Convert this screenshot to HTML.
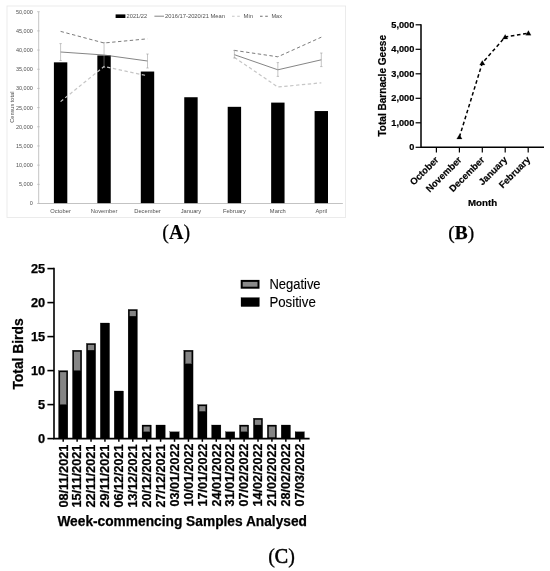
<!DOCTYPE html>
<html lang="en"><head><meta charset="utf-8"><title>Figure</title>
<style>html,body{margin:0;padding:0;background:#fff;}svg{display:block;}.a{font-family:"Liberation Sans",Arial,sans-serif;}.s{font-family:"Liberation Serif","Times New Roman",serif;}</style></head><body>
<svg width="550" height="571" viewBox="0 0 550 571">
<rect x="0" y="0" width="550" height="571" fill="#ffffff"/>
<g id="panelA" class="a">
<rect x="7" y="6" width="338.6" height="211.5" fill="#fff" stroke="#e6e6e6" stroke-width="0.8"/>
<rect x="53.9" y="62.34" width="13.4" height="141.16" fill="#000"/>
<rect x="97.35" y="55.43" width="13.4" height="148.07" fill="#000"/>
<rect x="140.8" y="71.54" width="13.4" height="131.96" fill="#000"/>
<rect x="184.25" y="97.24" width="13.4" height="106.26" fill="#000"/>
<rect x="227.7" y="106.83" width="13.4" height="96.67" fill="#000"/>
<rect x="271.15" y="102.61" width="13.4" height="100.89" fill="#000"/>
<rect x="314.6" y="111.05" width="13.4" height="92.45" fill="#000"/>
<line x1="38.7" y1="11.7" x2="38.7" y2="203.5" stroke="#b4b4b4" stroke-width="0.8"/>
<line x1="38.7" y1="203.5" x2="342.85" y2="203.5" stroke="#b4b4b4" stroke-width="0.8"/>
<line x1="37.1" y1="203.5" x2="39.7" y2="203.5" stroke="#b4b4b4" stroke-width="0.7"/>
<text x="32.8" y="205.4" font-size="5.5" fill="#505050" text-anchor="end">0</text>
<line x1="37.1" y1="184.32" x2="39.7" y2="184.32" stroke="#b4b4b4" stroke-width="0.7"/>
<text x="32.8" y="186.22" font-size="5.5" fill="#505050" text-anchor="end">5,000</text>
<line x1="37.1" y1="165.14" x2="39.7" y2="165.14" stroke="#b4b4b4" stroke-width="0.7"/>
<text x="32.8" y="167.04" font-size="5.5" fill="#505050" text-anchor="end">10,000</text>
<line x1="37.1" y1="145.96" x2="39.7" y2="145.96" stroke="#b4b4b4" stroke-width="0.7"/>
<text x="32.8" y="147.86" font-size="5.5" fill="#505050" text-anchor="end">15,000</text>
<line x1="37.1" y1="126.78" x2="39.7" y2="126.78" stroke="#b4b4b4" stroke-width="0.7"/>
<text x="32.8" y="128.68" font-size="5.5" fill="#505050" text-anchor="end">20,000</text>
<line x1="37.1" y1="107.6" x2="39.7" y2="107.6" stroke="#b4b4b4" stroke-width="0.7"/>
<text x="32.8" y="109.5" font-size="5.5" fill="#505050" text-anchor="end">25,000</text>
<line x1="37.1" y1="88.42" x2="39.7" y2="88.42" stroke="#b4b4b4" stroke-width="0.7"/>
<text x="32.8" y="90.32" font-size="5.5" fill="#505050" text-anchor="end">30,000</text>
<line x1="37.1" y1="69.24" x2="39.7" y2="69.24" stroke="#b4b4b4" stroke-width="0.7"/>
<text x="32.8" y="71.14" font-size="5.5" fill="#505050" text-anchor="end">35,000</text>
<line x1="37.1" y1="50.06" x2="39.7" y2="50.06" stroke="#b4b4b4" stroke-width="0.7"/>
<text x="32.8" y="51.96" font-size="5.5" fill="#505050" text-anchor="end">40,000</text>
<line x1="37.1" y1="30.88" x2="39.7" y2="30.88" stroke="#b4b4b4" stroke-width="0.7"/>
<text x="32.8" y="32.78" font-size="5.5" fill="#505050" text-anchor="end">45,000</text>
<line x1="37.1" y1="11.7" x2="39.7" y2="11.7" stroke="#b4b4b4" stroke-width="0.7"/>
<text x="32.8" y="13.6" font-size="5.5" fill="#505050" text-anchor="end">50,000</text>
<text x="60.6" y="213.3" font-size="5.75" fill="#505050" text-anchor="middle">October</text>
<text x="104.05" y="213.3" font-size="5.75" fill="#505050" text-anchor="middle">November</text>
<text x="147.5" y="213.3" font-size="5.75" fill="#505050" text-anchor="middle">December</text>
<text x="190.95" y="213.3" font-size="5.75" fill="#505050" text-anchor="middle">January</text>
<text x="234.4" y="213.3" font-size="5.75" fill="#505050" text-anchor="middle">February</text>
<text x="277.85" y="213.3" font-size="5.75" fill="#505050" text-anchor="middle">March</text>
<text x="321.3" y="213.3" font-size="5.75" fill="#505050" text-anchor="middle">April</text>
<text transform="translate(14.2 107.2) rotate(-90)" font-size="5.6" fill="#505050" text-anchor="middle" textLength="31.2" lengthAdjust="spacingAndGlyphs">Census total</text>
<polyline points="60.6,101.6 104.05,66.5 147.5,75.8" fill="none" stroke="#c6c6c6" stroke-width="1.2" stroke-dasharray="3.4 2.5"/>
<polyline points="234.4,57.4 277.85,87 321.3,82.8" fill="none" stroke="#c6c6c6" stroke-width="1.2" stroke-dasharray="3.4 2.5"/>
<polyline points="60.6,31.4 104.05,43 147.5,38.8" fill="none" stroke="#747474" stroke-width="0.95" stroke-dasharray="3.4 2.5"/>
<polyline points="234.4,50.4 277.85,56.8 321.3,37.2" fill="none" stroke="#747474" stroke-width="0.95" stroke-dasharray="3.4 2.5"/>
<polyline points="60.6,52 104.05,55 147.5,61" fill="none" stroke="#5c5c5c" stroke-width="0.75"/>
<polyline points="234.4,54.7 277.85,69.8 321.3,59.8" fill="none" stroke="#5c5c5c" stroke-width="0.75"/>
<path d="M60.6 43.6V60.5M59.4 43.6h2.4M59.4 60.5h2.4" fill="none" stroke="#969696" stroke-width="0.55"/>
<path d="M104.05 42.6V67.5M102.85 42.6h2.4M102.85 67.5h2.4" fill="none" stroke="#969696" stroke-width="0.55"/>
<path d="M147.5 54V68M146.3 54h2.4M146.3 68h2.4" fill="none" stroke="#969696" stroke-width="0.55"/>
<path d="M234.4 50.4V58M233.2 50.4h2.4M233.2 58h2.4" fill="none" stroke="#969696" stroke-width="0.55"/>
<path d="M277.85 62.6V76.4M276.65 62.6h2.4M276.65 76.4h2.4" fill="none" stroke="#969696" stroke-width="0.55"/>
<path d="M321.3 53V66.6M320.1 53h2.4M320.1 66.6h2.4" fill="none" stroke="#969696" stroke-width="0.55"/>
<rect x="115.6" y="14.4" width="9.8" height="3.6" fill="#000"/>
<text x="126.6" y="18.2" font-size="5.4" fill="#505050" textLength="20.6" lengthAdjust="spacingAndGlyphs">2021/22</text>
<line x1="154.4" y1="16.2" x2="164" y2="16.2" stroke="#5c5c5c" stroke-width="0.75"/>
<text x="165" y="18.2" font-size="5.4" fill="#505050" textLength="60" lengthAdjust="spacingAndGlyphs">2016/17-2020/21 Mean</text>
<line x1="232" y1="16.2" x2="240.2" y2="16.2" stroke="#c6c6c6" stroke-width="1.1" stroke-dasharray="2.6 2.6"/>
<text x="243.6" y="18.2" font-size="5.4" fill="#505050" textLength="9.4" lengthAdjust="spacingAndGlyphs">Min</text>
<line x1="260" y1="16.2" x2="268.2" y2="16.2" stroke="#707070" stroke-width="1.1" stroke-dasharray="2.6 2.6"/>
<text x="271.4" y="18.2" font-size="5.4" fill="#505050" textLength="10.6" lengthAdjust="spacingAndGlyphs">Max</text>
</g>
<text class="s" x="176.2" y="238.7" font-size="20" text-anchor="middle" fill="#000" stroke="#000" stroke-width="0.2">(<tspan font-weight="bold">A</tspan>)</text>
<g id="panelB" class="a" font-weight="bold" fill="#000" stroke="#000" stroke-width="0.2">
<path d="M421 24.2V147.3H544" fill="none" stroke="#000" stroke-width="1.5" stroke-linejoin="miter"/>
<line x1="415.6" y1="147.3" x2="421" y2="147.3" stroke="#000" stroke-width="1.2"/>
<text x="414.3" y="150.4" font-size="9.2" text-anchor="end">0</text>
<line x1="415.6" y1="122.8" x2="421" y2="122.8" stroke="#000" stroke-width="1.2"/>
<text x="414.3" y="125.9" font-size="9.2" text-anchor="end">1,000</text>
<line x1="415.6" y1="98.3" x2="421" y2="98.3" stroke="#000" stroke-width="1.2"/>
<text x="414.3" y="101.4" font-size="9.2" text-anchor="end">2,000</text>
<line x1="415.6" y1="73.8" x2="421" y2="73.8" stroke="#000" stroke-width="1.2"/>
<text x="414.3" y="76.9" font-size="9.2" text-anchor="end">3,000</text>
<line x1="415.6" y1="49.3" x2="421" y2="49.3" stroke="#000" stroke-width="1.2"/>
<text x="414.3" y="52.4" font-size="9.2" text-anchor="end">4,000</text>
<line x1="415.6" y1="24.8" x2="421" y2="24.8" stroke="#000" stroke-width="1.2"/>
<text x="414.3" y="27.9" font-size="9.2" text-anchor="end">5,000</text>
<line x1="436.4" y1="147.3" x2="436.4" y2="152.4" stroke="#000" stroke-width="1.2"/>
<text transform="translate(439.2 160.4) rotate(-45)" font-size="9.4" text-anchor="end">October</text>
<line x1="459.4" y1="147.3" x2="459.4" y2="152.4" stroke="#000" stroke-width="1.2"/>
<text transform="translate(462.2 160.4) rotate(-45)" font-size="9.4" text-anchor="end">November</text>
<line x1="482.3" y1="147.3" x2="482.3" y2="152.4" stroke="#000" stroke-width="1.2"/>
<text transform="translate(485.1 160.4) rotate(-45)" font-size="9.4" text-anchor="end">December</text>
<line x1="505.2" y1="147.3" x2="505.2" y2="152.4" stroke="#000" stroke-width="1.2"/>
<text transform="translate(508 160.4) rotate(-45)" font-size="9.4" text-anchor="end">January</text>
<line x1="528.2" y1="147.3" x2="528.2" y2="152.4" stroke="#000" stroke-width="1.2"/>
<text transform="translate(531 160.4) rotate(-45)" font-size="9.4" text-anchor="end">February</text>
<polyline points="459.4,137 482.3,63 505.2,37 528.4,33.2" fill="none" stroke="#000" stroke-width="1.5" stroke-dasharray="3.6 2.6"/>
<path d="M459.4 134.4l2.7 4.6h-5.4z" fill="#000"/>
<path d="M482.3 60.4l2.7 4.6h-5.4z" fill="#000"/>
<path d="M505.2 34.4l2.7 4.6h-5.4z" fill="#000"/>
<path d="M528.4 30.6l2.7 4.6h-5.4z" fill="#000"/>
<text transform="translate(385.7 85.8) rotate(-90)" font-size="10" text-anchor="middle" textLength="101.6" lengthAdjust="spacingAndGlyphs">Total Barnacle Geese</text>
<text x="482.5" y="206.1" font-size="9.9" text-anchor="middle" textLength="29.2" lengthAdjust="spacingAndGlyphs">Month</text>
</g>
<text class="s" x="461.2" y="238.5" font-size="19.4" text-anchor="middle" fill="#000" stroke="#000" stroke-width="0.25">(<tspan font-weight="bold">B</tspan>)</text>
<g id="panelC" class="a" fill="#000" stroke="#000" stroke-width="0.25">
<rect x="58.55" y="370.6" width="9.3" height="68" fill="#000"/>
<rect x="59.95" y="372" width="6.5" height="32.6" fill="#858585"/>
<line x1="63.2" y1="438.6" x2="63.2" y2="441.8" stroke="#000" stroke-width="1.5"/>
<text transform="translate(67.5 444.6) rotate(-90)" font-size="12.7" font-weight="bold" text-anchor="end" textLength="63" lengthAdjust="spacingAndGlyphs">08/11/2021</text>
<rect x="72.47" y="350.2" width="9.3" height="88.4" fill="#000"/>
<rect x="73.87" y="351.6" width="6.5" height="19" fill="#858585"/>
<line x1="77.12" y1="438.6" x2="77.12" y2="441.8" stroke="#000" stroke-width="1.5"/>
<text transform="translate(81.42 444.6) rotate(-90)" font-size="12.7" font-weight="bold" text-anchor="end" textLength="63" lengthAdjust="spacingAndGlyphs">15/11/2021</text>
<rect x="86.38" y="343.4" width="9.3" height="95.2" fill="#000"/>
<rect x="87.78" y="344.8" width="6.5" height="5.4" fill="#858585"/>
<line x1="91.03" y1="438.6" x2="91.03" y2="441.8" stroke="#000" stroke-width="1.5"/>
<text transform="translate(95.33 444.6) rotate(-90)" font-size="12.7" font-weight="bold" text-anchor="end" textLength="63" lengthAdjust="spacingAndGlyphs">22/11/2021</text>
<rect x="100.29" y="323" width="9.3" height="115.6" fill="#000"/>
<line x1="104.94" y1="438.6" x2="104.94" y2="441.8" stroke="#000" stroke-width="1.5"/>
<text transform="translate(109.24 444.6) rotate(-90)" font-size="12.7" font-weight="bold" text-anchor="end" textLength="63" lengthAdjust="spacingAndGlyphs">29/11/2021</text>
<rect x="114.21" y="391" width="9.3" height="47.6" fill="#000"/>
<line x1="118.86" y1="438.6" x2="118.86" y2="441.8" stroke="#000" stroke-width="1.5"/>
<text transform="translate(123.16 444.6) rotate(-90)" font-size="12.7" font-weight="bold" text-anchor="end" textLength="63" lengthAdjust="spacingAndGlyphs">06/12/2021</text>
<rect x="128.12" y="309.4" width="9.3" height="129.2" fill="#000"/>
<rect x="129.52" y="310.8" width="6.5" height="5.4" fill="#858585"/>
<line x1="132.77" y1="438.6" x2="132.77" y2="441.8" stroke="#000" stroke-width="1.5"/>
<text transform="translate(137.07 444.6) rotate(-90)" font-size="12.7" font-weight="bold" text-anchor="end" textLength="63" lengthAdjust="spacingAndGlyphs">13/12/2021</text>
<rect x="142.04" y="425" width="9.3" height="13.6" fill="#000"/>
<rect x="143.44" y="426.4" width="6.5" height="5.4" fill="#858585"/>
<line x1="146.69" y1="438.6" x2="146.69" y2="441.8" stroke="#000" stroke-width="1.5"/>
<text transform="translate(150.99 444.6) rotate(-90)" font-size="12.7" font-weight="bold" text-anchor="end" textLength="63" lengthAdjust="spacingAndGlyphs">20/12/2021</text>
<rect x="155.96" y="425" width="9.3" height="13.6" fill="#000"/>
<line x1="160.61" y1="438.6" x2="160.61" y2="441.8" stroke="#000" stroke-width="1.5"/>
<text transform="translate(164.91 444.6) rotate(-90)" font-size="12.7" font-weight="bold" text-anchor="end" textLength="63" lengthAdjust="spacingAndGlyphs">27/12/2021</text>
<rect x="169.87" y="431.8" width="9.3" height="6.8" fill="#000"/>
<line x1="174.52" y1="438.6" x2="174.52" y2="441.8" stroke="#000" stroke-width="1.5"/>
<text transform="translate(178.82 443.6) rotate(-90)" font-size="12.7" font-weight="bold" text-anchor="end" textLength="63" lengthAdjust="spacingAndGlyphs">03/01/2022</text>
<rect x="183.78" y="350.2" width="9.3" height="88.4" fill="#000"/>
<rect x="185.19" y="351.6" width="6.5" height="12.2" fill="#858585"/>
<line x1="188.44" y1="438.6" x2="188.44" y2="441.8" stroke="#000" stroke-width="1.5"/>
<text transform="translate(192.74 443.6) rotate(-90)" font-size="12.7" font-weight="bold" text-anchor="end" textLength="63" lengthAdjust="spacingAndGlyphs">10/01/2022</text>
<rect x="197.7" y="404.6" width="9.3" height="34" fill="#000"/>
<rect x="199.1" y="406" width="6.5" height="5.4" fill="#858585"/>
<line x1="202.35" y1="438.6" x2="202.35" y2="441.8" stroke="#000" stroke-width="1.5"/>
<text transform="translate(206.65 443.6) rotate(-90)" font-size="12.7" font-weight="bold" text-anchor="end" textLength="63" lengthAdjust="spacingAndGlyphs">17/01/2022</text>
<rect x="211.61" y="425" width="9.3" height="13.6" fill="#000"/>
<line x1="216.26" y1="438.6" x2="216.26" y2="441.8" stroke="#000" stroke-width="1.5"/>
<text transform="translate(220.56 443.6) rotate(-90)" font-size="12.7" font-weight="bold" text-anchor="end" textLength="63" lengthAdjust="spacingAndGlyphs">24/01/2022</text>
<rect x="225.53" y="431.8" width="9.3" height="6.8" fill="#000"/>
<line x1="230.18" y1="438.6" x2="230.18" y2="441.8" stroke="#000" stroke-width="1.5"/>
<text transform="translate(234.48 443.6) rotate(-90)" font-size="12.7" font-weight="bold" text-anchor="end" textLength="63" lengthAdjust="spacingAndGlyphs">31/01/2022</text>
<rect x="239.44" y="425" width="9.3" height="13.6" fill="#000"/>
<rect x="240.84" y="426.4" width="6.5" height="5.4" fill="#858585"/>
<line x1="244.09" y1="438.6" x2="244.09" y2="441.8" stroke="#000" stroke-width="1.5"/>
<text transform="translate(248.39 443.6) rotate(-90)" font-size="12.7" font-weight="bold" text-anchor="end" textLength="63" lengthAdjust="spacingAndGlyphs">07/02/2022</text>
<rect x="253.36" y="418.2" width="9.3" height="20.4" fill="#000"/>
<rect x="254.76" y="419.6" width="6.5" height="5.4" fill="#858585"/>
<line x1="258.01" y1="438.6" x2="258.01" y2="441.8" stroke="#000" stroke-width="1.5"/>
<text transform="translate(262.31 443.6) rotate(-90)" font-size="12.7" font-weight="bold" text-anchor="end" textLength="63" lengthAdjust="spacingAndGlyphs">14/02/2022</text>
<rect x="267.28" y="425" width="9.3" height="13.6" fill="#000"/>
<rect x="268.68" y="426.4" width="6.5" height="11.2" fill="#858585"/>
<line x1="271.93" y1="438.6" x2="271.93" y2="441.8" stroke="#000" stroke-width="1.5"/>
<text transform="translate(276.23 443.6) rotate(-90)" font-size="12.7" font-weight="bold" text-anchor="end" textLength="63" lengthAdjust="spacingAndGlyphs">21/02/2022</text>
<rect x="281.19" y="425" width="9.3" height="13.6" fill="#000"/>
<line x1="285.84" y1="438.6" x2="285.84" y2="441.8" stroke="#000" stroke-width="1.5"/>
<text transform="translate(290.14 443.6) rotate(-90)" font-size="12.7" font-weight="bold" text-anchor="end" textLength="63" lengthAdjust="spacingAndGlyphs">28/02/2022</text>
<rect x="295.11" y="431.8" width="9.3" height="6.8" fill="#000"/>
<line x1="299.75" y1="438.6" x2="299.75" y2="441.8" stroke="#000" stroke-width="1.5"/>
<text transform="translate(304.06 443.6) rotate(-90)" font-size="12.7" font-weight="bold" text-anchor="end" textLength="63" lengthAdjust="spacingAndGlyphs">07/03/2022</text>
<path d="M54 267.8V438.6H309.6" fill="none" stroke="#000" stroke-width="1.6"/>
<line x1="47.4" y1="438.6" x2="54" y2="438.6" stroke="#000" stroke-width="1.6"/>
<text x="45.2" y="443.4" font-size="12.8" font-weight="bold" text-anchor="end">0</text>
<line x1="47.4" y1="404.6" x2="54" y2="404.6" stroke="#000" stroke-width="1.6"/>
<text x="45.2" y="409.4" font-size="12.8" font-weight="bold" text-anchor="end">5</text>
<line x1="47.4" y1="370.6" x2="54" y2="370.6" stroke="#000" stroke-width="1.6"/>
<text x="45.2" y="375.4" font-size="12.8" font-weight="bold" text-anchor="end">10</text>
<line x1="47.4" y1="336.6" x2="54" y2="336.6" stroke="#000" stroke-width="1.6"/>
<text x="45.2" y="341.4" font-size="12.8" font-weight="bold" text-anchor="end">15</text>
<line x1="47.4" y1="302.6" x2="54" y2="302.6" stroke="#000" stroke-width="1.6"/>
<text x="45.2" y="307.4" font-size="12.8" font-weight="bold" text-anchor="end">20</text>
<line x1="47.4" y1="268.6" x2="54" y2="268.6" stroke="#000" stroke-width="1.6"/>
<text x="45.2" y="273.4" font-size="12.8" font-weight="bold" text-anchor="end">25</text>
<text transform="translate(22.7 354) rotate(-90)" font-size="14.2" font-weight="bold" text-anchor="middle" textLength="71.2" lengthAdjust="spacingAndGlyphs">Total Birds</text>
<text x="57.4" y="526.3" font-size="13.8" font-weight="bold" textLength="249.6" lengthAdjust="spacingAndGlyphs">Week-commencing Samples Analysed</text>
<rect x="241.7" y="280.9" width="16.8" height="6.8" fill="#8a8a8a" stroke="#000" stroke-width="2"/>
<rect x="241" y="297.6" width="18.4" height="9" fill="#000"/>
<text x="269.4" y="289.3" font-size="14" stroke-width="0.12" textLength="51.2" lengthAdjust="spacingAndGlyphs">Negative</text>
<text x="269.4" y="306.9" font-size="14" stroke-width="0.12" textLength="46.4" lengthAdjust="spacingAndGlyphs">Positive</text>
</g>
<text class="s" x="281.5" y="562.8" font-size="20" text-anchor="middle" fill="#000" stroke="#000" stroke-width="0.3">(<tspan stroke-width="0.65">C</tspan>)</text>
</svg>
</body></html>
